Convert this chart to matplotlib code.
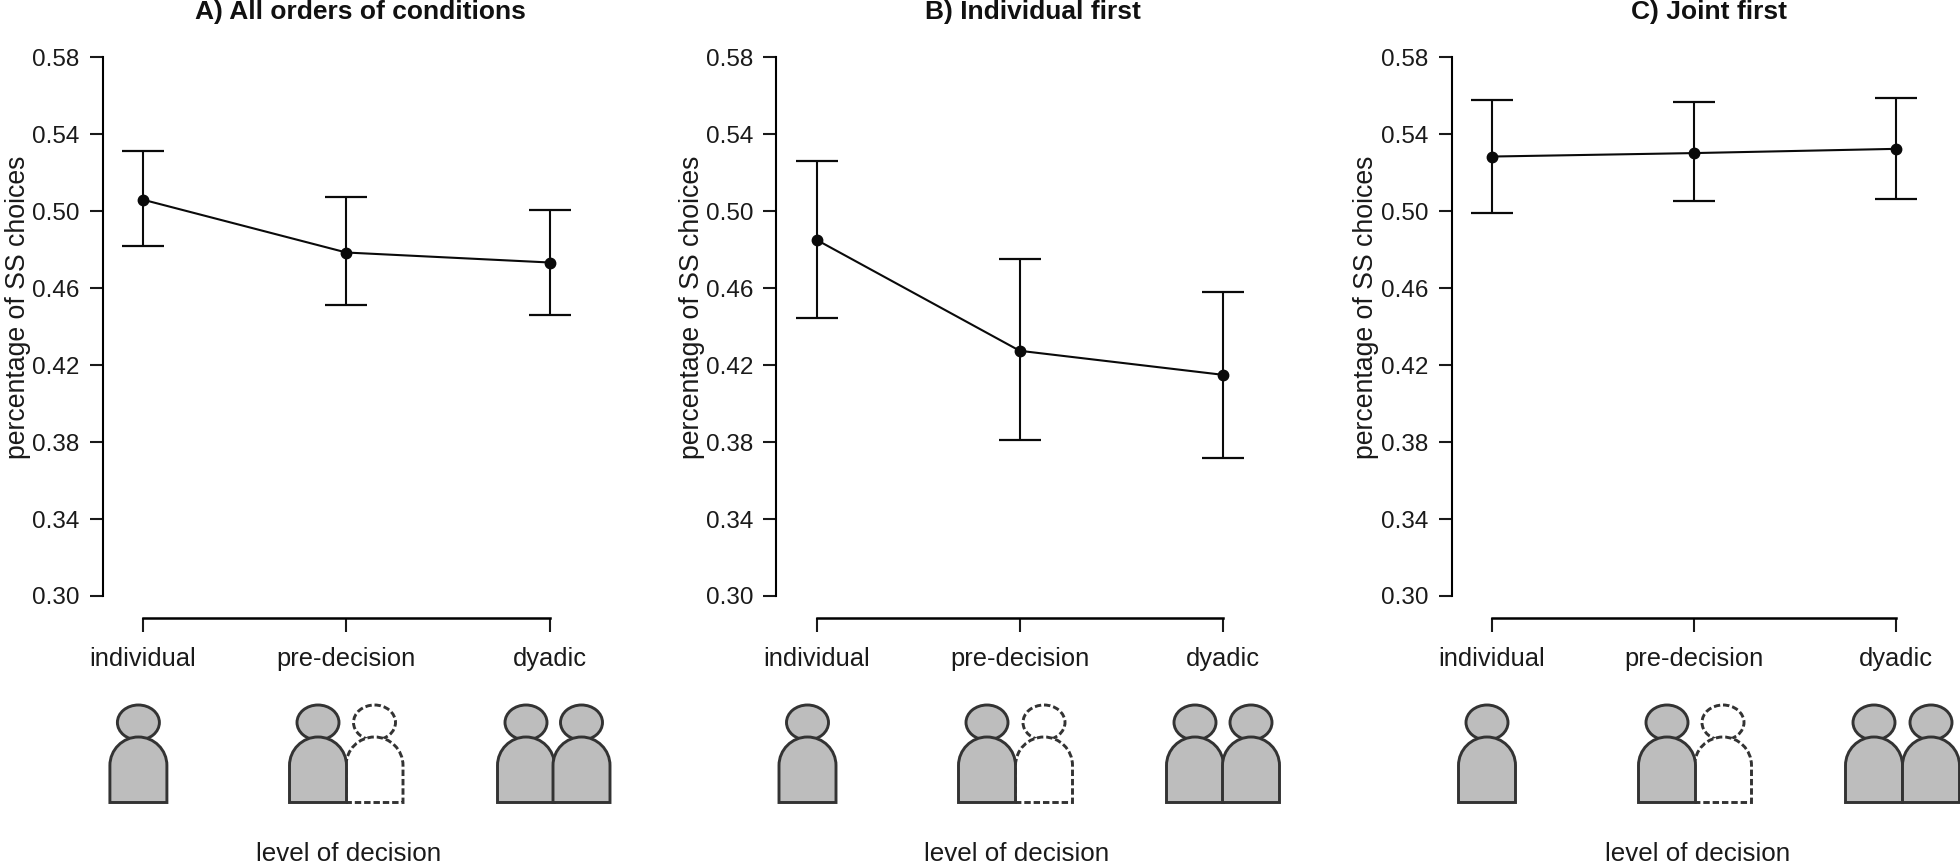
import matplotlib
matplotlib.use("Agg")
import matplotlib.pyplot as plt
from matplotlib.patches import Ellipse, PathPatch
from matplotlib.path import Path

plt.rcParams["font.family"] = ["Liberation Sans", "DejaVu Sans"]

W, H = 1960, 864

levels = ["individual", "pre-decision", "dyadic"]
yticks = [0.30, 0.34, 0.38, 0.42, 0.46, 0.50, 0.54, 0.58]
titles = ["A) All orders of conditions", "B) Individual first", "C) Joint first"]

mean_a = [0.5061, 0.4786, 0.4734]
low_a = [0.4821, 0.4515, 0.4463]
high_a = [0.5315, 0.5073, 0.5009]

mean_b = [0.4852, 0.4275, 0.415]
low_b = [0.4445, 0.381, 0.372]
high_b = [0.5263, 0.475, 0.458]

mean_c = [0.5285, 0.5303, 0.5325]
low_c = [0.4990, 0.5052, 0.5063]
high_c = [0.5581, 0.5569, 0.5590]

# pixel layout of each panel: y axis x, first tick x, last tick x
panels = [(102.5, 142.7, 550), (776, 816.5, 1223), (1451.5, 1491.5, 1896)]
title_x = [360, 1033, 1709]
xlabel_x = [349, 1017, 1698]
ylabel_x = [18, 692, 1366]
# person centres below each panel: (solid, dashed) pixel x
icons = [
    ([138.4, 318, 526, 581.5], [374.5]),
    ([807.5, 987, 1195, 1251], [1044]),
    ([1487, 1667, 1874, 1931], [1723]),
]
TOP, BOTTOM = 57.5, 596


def person(bg, cx, dashed=False):
    face = "white" if dashed else "#bdbdbd"
    ls = (0, (2.2, 1.0)) if dashed else "solid"
    rx, ry = 28.5, 28.5
    kx, ky = 0.5523 * rx, 0.5523 * ry
    top, mid, bot = 737, 765.5, 802.5
    verts = [(cx - rx, bot), (cx - rx, mid),
             (cx - rx, mid - ky), (cx - kx, top), (cx, top),
             (cx + kx, top), (cx + rx, mid - ky), (cx + rx, mid),
             (cx + rx, bot), (cx - rx, bot)]
    codes = [Path.MOVETO, Path.LINETO,
             Path.CURVE4, Path.CURVE4, Path.CURVE4,
             Path.CURVE4, Path.CURVE4, Path.CURVE4,
             Path.LINETO, Path.CLOSEPOLY]
    bg.add_patch(Ellipse((cx, 722.5), 42, 35, fc=face, ec="#333333", lw=2.1, ls=ls))
    bg.add_patch(PathPatch(Path(verts, codes), fc=face, ec="#333333", lw=2.1, ls=ls))


fig = plt.figure(figsize=(W / 100, H / 100), dpi=100, facecolor="white")

# pixel-coordinate layer for the person icons and free-standing labels
bg = fig.add_axes([0, 0, 1, 1])
bg.set_xlim(0, W)
bg.set_ylim(H, 0)
bg.axis("off")

series = [(mean_a, low_a, high_a), (mean_b, low_b, high_b), (mean_c, low_c, high_c)]

for i, (mean, low, high) in enumerate(series):
    x0, x1, x3 = panels[i]
    # the axes runs from the y axis to a little past the last tick
    step = (x3 - x1) / 2
    ax = fig.add_axes([x0 / W, 1 - BOTTOM / H, (x3 + 40 - x0) / W, (BOTTOM - TOP) / H])
    ax.patch.set_alpha(0)
    ax.set_xlim(1 - (x1 - x0) / step, 3 + 40 / step)
    ax.set_ylim(0.30, 0.58)
    xs = [1, 2, 3]
    ax.errorbar(xs, mean, yerr=[[m - l for m, l in zip(mean, low)],
                                [h - m for m, h in zip(mean, high)]],
                color="#0a0a0a", lw=1.5, elinewidth=1.5, capsize=15, capthick=1.6,
                marker="o", ms=7.5, clip_on=False)
    for s in ["top", "right"]:
        ax.spines[s].set_visible(False)
    ax.spines["left"].set_linewidth(1.5)
    ax.spines["bottom"].set_linewidth(1.8)
    ax.spines["bottom"].set_position(("outward", 15.5))
    ax.spines["bottom"].set_bounds(1, 3)
    ax.set_xticks(xs)
    ax.set_xticklabels(levels)
    ax.set_yticks(yticks)
    ax.set_yticklabels([f"{t:.2f}" for t in yticks])
    ax.tick_params(axis="y", length=9.5, width=1.5, labelsize=17.5, pad=7, colors="#1a1a1a")
    ax.tick_params(axis="x", length=10, width=1.5, labelsize=18.4, pad=11.5, colors="#1a1a1a")

    bg.text(title_x[i], 12, titles[i], ha="center", va="center", fontsize=19, fontweight="bold", color="#111111")
    bg.text(xlabel_x[i], 854, "level of decision", ha="center", va="center", fontsize=18.7, color="#1a1a1a")
    bg.text(ylabel_x[i], 307, "percentage of SS choices", rotation=90, ha="center", va="center", fontsize=19.2, color="#1a1a1a")

    solid, dashed = icons[i]
    for cx in dashed:
        person(bg, cx, dashed=True)
    for cx in solid:
        person(bg, cx)

fig.savefig("out.png", dpi=100)
